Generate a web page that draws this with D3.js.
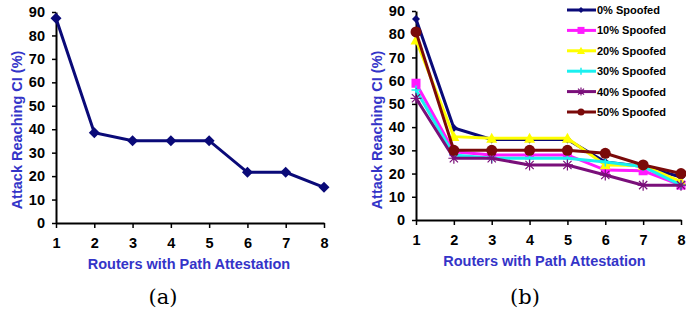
<!DOCTYPE html>
<html>
<head>
<meta charset="utf-8">
<script src="https://cdn.jsdelivr.net/npm/d3@7"></script>
<style>
  body { margin: 0; background: #fff; }
  svg { display: block; }
  text { font-family: "Liberation Sans", Arial, sans-serif; }
</style>
</head>
<body>
<script>
const width = 686
const height = 314

const routers = [1, 2, 3, 4, 5, 6, 7, 8]
const yTicks = [0, 10, 20, 30, 40, 50, 60, 70, 80, 90]

// panel (a)
const attackA = [87.3, 38.5, 35.1, 35.1, 35.1, 21.6, 21.6, 15.2]

// panel (b)
const seriesNames = ['0% Spoofed', '10% Spoofed', '20% Spoofed', '30% Spoofed', '40% Spoofed', '50% Spoofed']
const spoof0 = [86.6, 39.6, 34.7, 34.7, 34.7, 25, 23, 18.5]
const spoof10 = [58.9, 29.4, 28, 28, 28, 21.5, 21.2, 15]
const spoof20 = [77.5, 35.9, 35.2, 35.2, 35.2, 23.7, 23.5, 16.5]
const spoof30 = [56, 28, 26.6, 26.6, 26.6, 25, 23, 15]
const spoof40 = [52.4, 26.6, 26.6, 23.7, 23.7, 19.4, 15, 15]
const spoof50 = [81, 30, 30, 30, 30, 28.7, 23.7, 20]

const colors = ['#0a0a78', '#ff1aff', '#ffff00', '#1af0f0', '#7a0f7a', '#7a0a0a']
const symbols = ['diamondSmall', 'square', 'triangle', 'cross', 'star', 'circle']

const titleBlue = '#3434c8'

const svg = d3.select('body').append('svg')
  .attr('width', width)
  .attr('height', height)

function panel(opts) {
  const x = d3.scaleLinear().domain([1, 8]).range(opts.xr)
  const y = d3.scaleLinear().domain([0, 90]).range(opts.yr)
  const g = svg.append('g')

  const yAxis = g.append('g')
    .attr('transform', `translate(${opts.xr[0]},0)`)
    .call(d3.axisLeft(y).tickValues(yTicks).tickFormat(d3.format('d'))
      .tickSize(4).tickSizeOuter(0).tickPadding(7))
  const xAxis = g.append('g')
    .attr('transform', `translate(0,${opts.yr[0]})`)
    .call(d3.axisBottom(x).tickValues(routers).tickFormat(d3.format('d'))
      .tickSize(5).tickSizeOuter(0).tickPadding(10))

  ;[yAxis, xAxis].forEach(a => {
    a.select('.domain').attr('stroke', '#000').attr('stroke-width', 2)
    a.selectAll('.tick line').attr('stroke', '#000').attr('stroke-width', 1.5)
    a.selectAll('.tick text')
      .attr('fill', '#000')
      .style('font-size', '14.5px')
      .style('font-weight', 'bold')
  })

  g.append('text')
    .attr('x', (opts.xr[0] + opts.xr[1]) / 2 + opts.titleShift)
    .attr('y', opts.yr[0] + 46)
    .attr('text-anchor', 'middle')
    .attr('fill', titleBlue)
    .style('font-size', '14.5px')
    .style('font-weight', 'bold')
    .text('Routers with Path Attestation')

  g.append('text')
    .attr('transform', `translate(${opts.xr[0] - 34},${130}) rotate(-90)`)
    .attr('text-anchor', 'middle')
    .attr('fill', titleBlue)
    .style('font-size', '14.5px')
    .style('font-weight', 'bold')
    .text('Attack Reaching CI (%)')

  svg.append('text')
    .attr('x', opts.capX)
    .attr('y', 304)
    .attr('text-anchor', 'middle')
    .style('font-family', '"DejaVu Serif", "Liberation Serif", serif')
    .style('font-size', '21px')
    .text(opts.caption)

  return { g, x, y }
}

function marker(sel, type, color, size) {
  if (type === 'circle') {
    sel.append('circle').attr('r', size / 2).attr('fill', color)
  } else if (type === 'square') {
    sel.append('rect').attr('x', -size / 2).attr('y', -size / 2)
      .attr('width', size).attr('height', size).attr('fill', color)
  } else if (type === 'diamond' || type === 'diamondSmall') {
    const s = size / 2
    sel.append('path').attr('d', `M0,${-s}L${s},0L0,${s}L${-s},0Z`).attr('fill', color)
  } else if (type === 'triangle') {
    const s = size / 2
    sel.append('path').attr('d', `M0,${-s}L${s},${s * 0.8}L${-s},${s * 0.8}Z`).attr('fill', color)
  } else if (type === 'cross') {
    const s = size / 2
    sel.append('path').attr('d', `M${-s},0L${s},0M0,${-s}L0,${s}`)
      .attr('stroke', color).attr('stroke-width', 1.5)
  } else if (type === 'star') {
    const s = size / 2
    const d = s * 0.75
    sel.append('path')
      .attr('d', `M${-s},0L${s},0M0,${-s}L0,${s}M${-d},${-d}L${d},${d}M${-d},${d}L${d},${-d}`)
      .attr('stroke', color).attr('stroke-width', 1.2)
  }
}

function series(p, values, color, type, size, lw) {
  const line = d3.line().x((d, i) => p.x(routers[i])).y(d => p.y(d))
  p.g.append('path')
    .datum(values)
    .attr('fill', 'none')
    .attr('stroke', color)
    .attr('stroke-width', lw)
    .attr('d', line)
  p.g.selectAll(null)
    .data(values)
    .enter()
    .append('g')
    .attr('transform', (d, i) => `translate(${p.x(routers[i])},${p.y(d)})`)
    .each(function () { marker(d3.select(this), type, color, size) })
}

// (a)
const pa = panel({ xr: [56, 324], yr: [223, 12], titleShift: -1, capX: 163, caption: '(a)' })
series(pa, attackA, '#0a0a78', 'diamond', 11, 3)

// (b)
const pb = panel({ xr: [416, 681], yr: [220, 11], titleShift: -4, capX: 525, caption: '(b)' })
const allSpoof = [spoof0, spoof10, spoof20, spoof30, spoof40, spoof50]
const sizes = [8, 9, 11, 9, 11, 11]
allSpoof.forEach((vals, k) => series(pb, vals, colors[k], symbols[k], sizes[k], 3))

// legend
const legend = svg.append('g')
seriesNames.forEach((name, k) => {
  const yy = 10 + k * 20.4
  const row = legend.append('g').attr('transform', `translate(0,${yy})`)
  row.append('line').attr('x1', 567).attr('x2', 596)
    .attr('stroke', colors[k]).attr('stroke-width', 3)
  const m = row.append('g').attr('transform', 'translate(581,0)')
  marker(m, symbols[k], colors[k], [6, 7, 8, 7, 8, 7][k])
  row.append('text')
    .attr('x', 597)
    .attr('y', 4)
    .style('font-size', '11px')
    .style('font-weight', 'bold')
    .text(name)
})
</script>
</body>
</html>
